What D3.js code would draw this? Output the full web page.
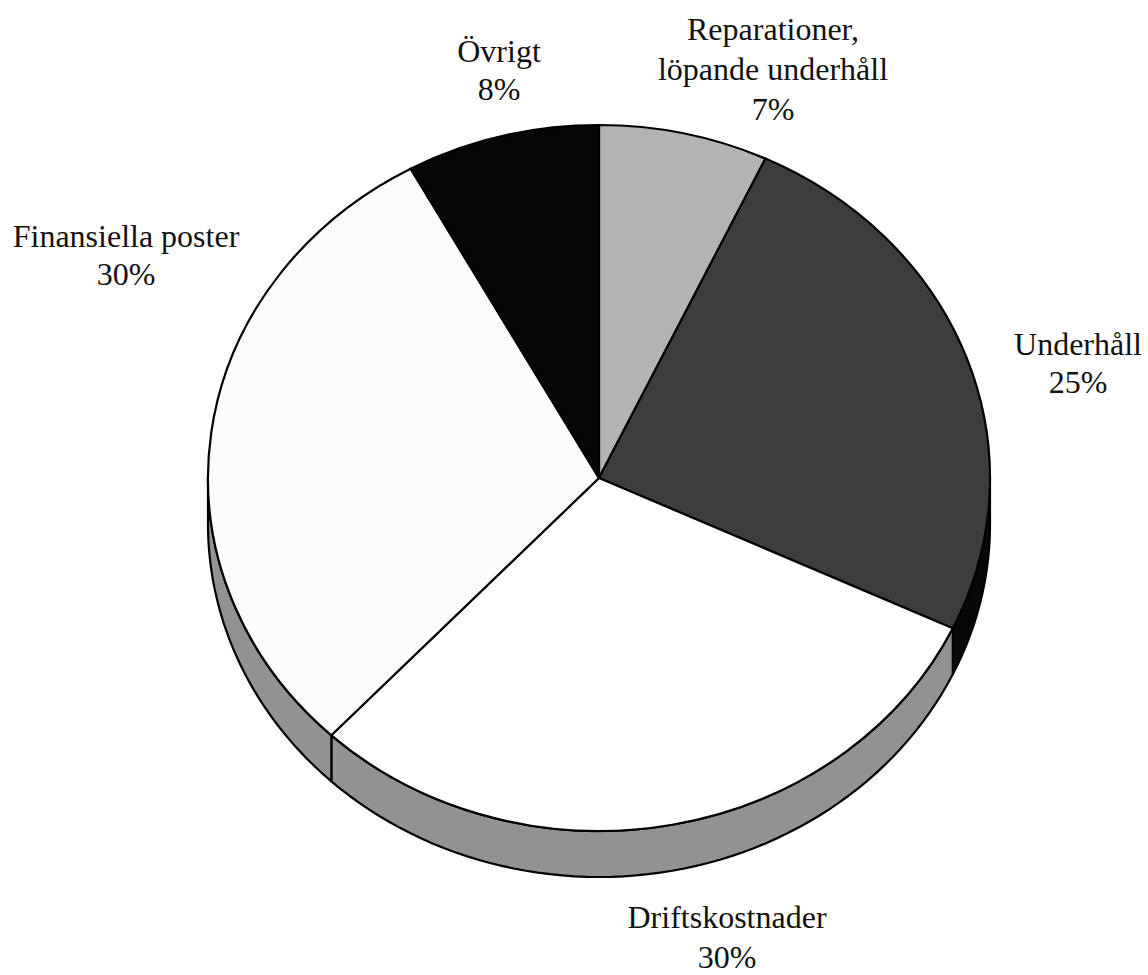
<!DOCTYPE html>
<html>
<head>
<meta charset="utf-8">
<script src="https://cdn.jsdelivr.net/npm/d3@7"></script>
<style>
  body { margin: 0; background: #fff; }
</style>
</head>
<body>
<div id="chart"></div>
<script>
// data
const categories = ["Reparationer, löpande underhåll", "Underhåll", "Driftskostnader", "Finansiella poster", "Övrigt"];
const values = [7, 25, 30, 30, 8];
const labelLines = [["Reparationer,", "löpande underhåll"], ["Underhåll"], ["Driftskostnader"], ["Finansiella poster"], ["Övrigt"]];

// styling / layout
const topColors = ["#b3b3b3", "#3b3e3d", "#ffffff", "#fcfcfc", "#060606"];
const sideColors = ["#8c8c8c", "#080808", "#929292", "#929292", "#060606"];
const labelLayout = [
  { x: 773, y: 40, dy: 40 },
  { x: 1078, y: 355, dy: 38 },
  { x: 727, y: 928, dy: 40 },
  { x: 126, y: 247, dy: 38 },
  { x: 499, y: 62, dy: 38 }
];

const width = 1148, height = 975;
const cx = 599, cy = 478, rx = 391, ry = 353, depth = 46;

const svg = d3.select("#chart").append("svg")
  .attr("width", width)
  .attr("height", height);

const pie = d3.pie().sort(null).value(d => d.value).startAngle(0).endAngle(2 * Math.PI);
const rows = categories.map((c, i) => ({ name: c, value: values[i], i }));
const arcs = pie(rows);

// point on the ellipse for a pie angle (0 = top, clockwise)
const px = a => cx + rx * Math.sin(a);
const py = a => cy - ry * Math.cos(a);

const line = d3.line();

// side walls, front half only
const sides = svg.append("g");
arcs.forEach(d => {
  const s0 = Math.max(d.startAngle, Math.PI / 2);
  const s1 = Math.min(d.endAngle, 3 * Math.PI / 2);
  if (s0 >= s1) return;
  const n = 60;
  const pts = [];
  for (let k = 0; k <= n; k++) {
    const a = s0 + (s1 - s0) * k / n;
    pts.push([px(a), py(a)]);
  }
  for (let k = n; k >= 0; k--) {
    const a = s0 + (s1 - s0) * k / n;
    pts.push([px(a), py(a) + depth]);
  }
  sides.append("path")
    .attr("d", line(pts) + "Z")
    .attr("fill", sideColors[d.data.i])
    .attr("stroke", "#000")
    .attr("stroke-width", 2.2)
    .attr("stroke-linejoin", "round");
});

// top face
const arc = d3.arc().innerRadius(0).outerRadius(rx);
svg.append("g")
  .attr("transform", `translate(${cx},${cy}) scale(1,${ry / rx})`)
  .selectAll("path")
  .data(arcs)
  .join("path")
  .attr("d", arc)
  .attr("fill", d => topColors[d.data.i])
  .attr("stroke", "#000")
  .attr("stroke-width", 2.2)
  .attr("stroke-linejoin", "round")
  .attr("vector-effect", "non-scaling-stroke");

// labels
const labels = svg.append("g")
  .attr("font-family", "'Liberation Serif', 'Times New Roman', 'DejaVu Serif', serif")
  .attr("font-size", 32)
  .attr("fill", "#111");
arcs.forEach(d => {
  const L = labelLayout[d.data.i];
  const lines = labelLines[d.data.i].concat([d.data.value + "%"]);
  const t = labels.append("text").attr("text-anchor", "middle");
  lines.forEach((s, k) => {
    t.append("tspan").attr("x", L.x).attr("y", L.y + k * L.dy).text(s);
  });
});
</script>
</body>
</html>
